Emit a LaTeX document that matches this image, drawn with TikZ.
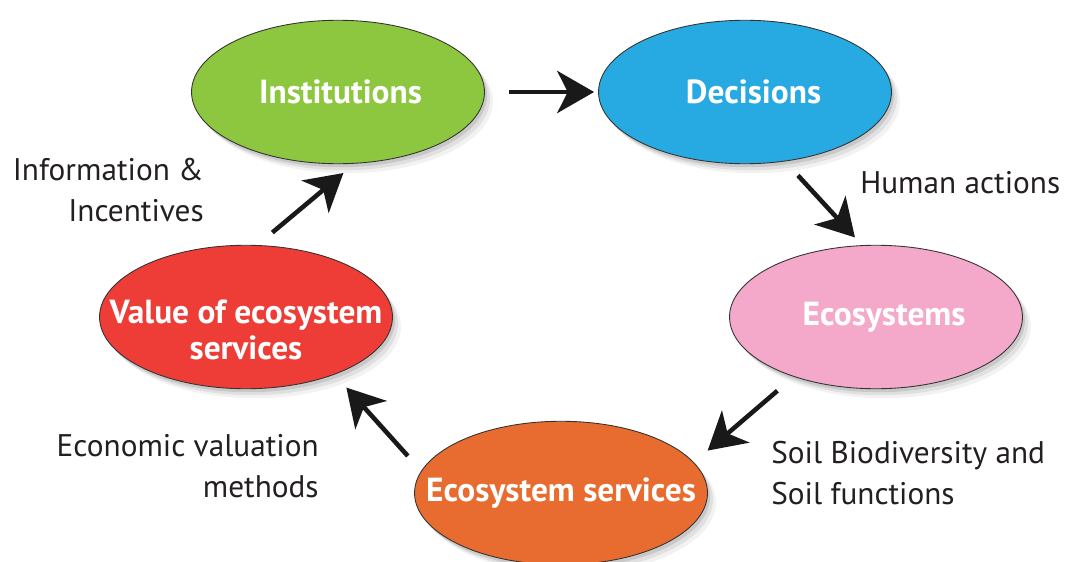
\documentclass[tikz,border=0pt]{standalone}
\usepackage{fontspec}
\setmainfont{PT Sans}
\usetikzlibrary{shapes.geometric,arrows.meta,shadows}

\definecolor{instgreen}{HTML}{8DC63F}
\definecolor{decblue}{HTML}{27AAE1}
\definecolor{ecopink}{HTML}{F4A9CA}
\definecolor{servorange}{HTML}{E86C30}
\definecolor{valred}{HTML}{EE3D37}
\definecolor{txtgray}{HTML}{231F20}

\begin{document}
\begin{tikzpicture}[x=0.02cm,y=-0.02cm,
    blob/.style={ellipse,draw=black!80,line width=0.5pt,inner sep=0pt,
        minimum width=5.86cm,minimum height=2.87cm,
        drop shadow={shadow xshift=0.17cm,shadow yshift=-0.19cm,opacity=0.10},
        drop shadow={shadow xshift=0.11cm,shadow yshift=-0.13cm,opacity=0.16},
        drop shadow={shadow xshift=0.05cm,shadow yshift=-0.07cm,opacity=0.25}},
    boldtxt/.style={font=\bfseries\fontsize{19}{20.5}\selectfont,text=white,align=center},
    lbl/.style={font=\fontsize{17.8}{23}\selectfont,text=txtgray,inner sep=0pt},
    flow/.style={line width=2.6pt,black!90,-{Stealth[length=21pt,width=24pt,inset=6pt]}}]
\useasboundingbox (0,0) rectangle (1071,561);
% the five stages of the cycle
\node[blob,fill=instgreen,label={[boldtxt,xshift=0.05cm]center:Institutions}] (inst) at (338,92) {};
\node[blob,fill=decblue,label={[boldtxt,xshift=0.17cm]center:Decisions}] (dec) at (745,92) {};
\node[blob,fill=ecopink,label={[boldtxt,xshift=0.16cm]center:Ecosystems}] (eco) at (876,317) {};
\node[blob,fill=servorange,label={[boldtxt]center:Ecosystem services}] (serv) at (561,493) {};
\node[blob,fill=valred,label={[boldtxt,yshift=-0.26cm]center:Value of ecosystem\\services}] (val) at (246,317) {};
%
% arrows round the cycle
\draw[flow,shorten <=0.48cm,shorten >=0.08cm] (inst.east) -- (dec.west);
\draw[flow,shorten <=0.38cm,shorten >=0.21cm] (dec.-60.5) -- (eco.101);
\draw[flow,shorten <=0.43cm,shorten >=0.36cm] (eco.-144.4) -- (serv.13.5);
\draw[flow,shorten <=0.40cm,shorten >=0.35cm] (serv.171.5) -- (val.-33);
\draw[flow,shorten <=0.39cm,shorten >=0.29cm] (val.81) -- (inst.-77);
%
% labels next to the arrows
\node[lbl,anchor=base west] (hum) at (860,193) {Human actions};
\node[lbl,align=left,anchor=west] (soil) at (771,473) {Soil Biodiversity and\\Soil functions};
\node[lbl,align=right,anchor=east] (econ) at (319,466) {Economic valuation\\methods};
\node[lbl,align=right,anchor=east] (info) at (204,190) {Information \&\\Incentives};
\end{tikzpicture}
\end{document}
